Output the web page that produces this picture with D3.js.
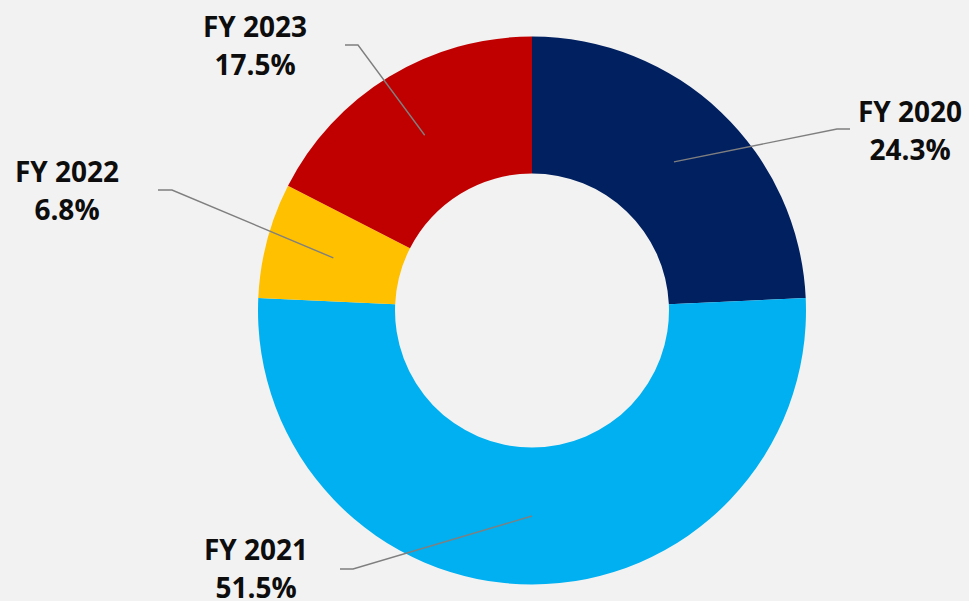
<!DOCTYPE html>
<html>
<head>
<meta charset="utf-8">
<script src="https://cdn.jsdelivr.net/npm/d3@7"></script>
<style>
  html, body { margin: 0; padding: 0; background: #f2f2f2; }
  svg { display: block; }
</style>
</head>
<body>
<div id="chart"></div>
<script>
// data
const years = ["FY 2020", "FY 2021", "FY 2022", "FY 2023"];
const shares = [24.3, 51.5, 6.8, 17.5];
const colors = ["#002060", "#00b0f0", "#ffc000", "#c00000"];

// label placement (elbow of leader line, end of leader line, text centre / first baseline)
const labelLayout = [
  { elbow: [837, 129], end: [850, 129], text: [910, 122] },
  { elbow: [353, 569], end: [340, 569], text: [256, 560] },
  { elbow: [172, 190], end: [158, 190], text: [67, 182] },
  { elbow: [358, 45], end: [345, 45], text: [255, 37] },
];

const width = 969,
  height = 601,
  cx = 532,
  cy = 310.5,
  outerRadius = 274,
  innerRadius = 137,
  fontSize = 28,
  lineGap = 37.5;

const data = years.map((y, i) => ({ year: y, value: shares[i], color: colors[i] }));

const svg = d3
  .select("#chart")
  .append("svg")
  .attr("width", width)
  .attr("height", height)
  .attr("viewBox", [0, 0, width, height]);

svg.append("rect").attr("width", width).attr("height", height).attr("fill", "#f2f2f2");

const pie = d3.pie().sort(null).value((d) => d.value);
const arc = d3.arc().innerRadius(innerRadius).outerRadius(outerRadius);
const midArc = d3
  .arc()
  .innerRadius((innerRadius + outerRadius) / 2)
  .outerRadius((innerRadius + outerRadius) / 2);

const arcs = pie(data);

const g = svg.append("g").attr("transform", `translate(${cx},${cy})`);

// slices
g.selectAll("path")
  .data(arcs)
  .join("path")
  .attr("d", arc)
  .attr("fill", (d) => d.data.color);

// leader lines
svg
  .append("g")
  .selectAll("polyline")
  .data(arcs)
  .join("polyline")
  .attr("fill", "none")
  .attr("stroke", "#7f7f7f")
  .attr("stroke-width", 1.4)
  .attr("points", (d, i) => {
    const [x, y] = midArc.centroid(d);
    const l = labelLayout[i];
    return [[cx + x, cy + y], l.elbow, l.end].map((p) => p.join(",")).join(" ");
  });

// labels
const labels = svg
  .append("g")
  .attr("font-family", "'Open Sans', sans-serif")
  .attr("font-weight", 700)
  .attr("font-size", fontSize)
  .attr("fill", "#0d0d0d")
  .attr("text-anchor", "middle")
  .selectAll("text")
  .data(arcs)
  .join("text")
  .attr("x", (d, i) => labelLayout[i].text[0])
  .attr("y", (d, i) => labelLayout[i].text[1]);

labels
  .append("tspan")
  .attr("x", (d, i) => labelLayout[i].text[0])
  .text((d) => d.data.year);

labels
  .append("tspan")
  .attr("x", (d, i) => labelLayout[i].text[0])
  .attr("dy", lineGap)
  .text((d) => d.data.value.toFixed(1) + "%");
</script>
</body>
</html>
